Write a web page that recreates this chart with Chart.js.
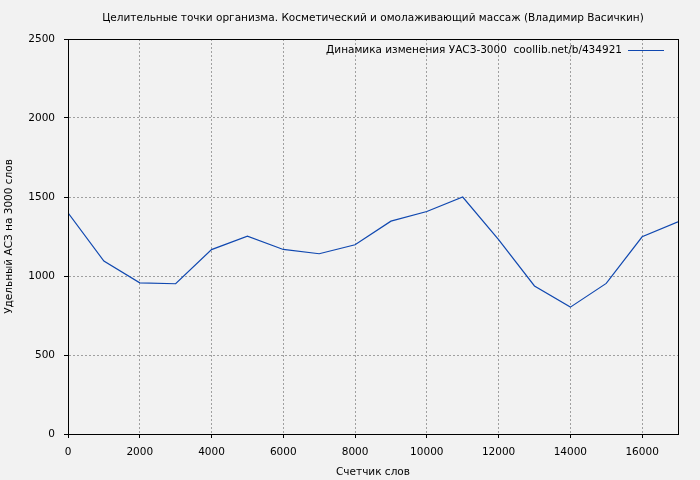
<!DOCTYPE html>
<html>
<head>
<meta charset="utf-8">
<script src="https://cdn.jsdelivr.net/npm/chart.js@4"></script>
<style>
  html, body { margin: 0; padding: 0; background: #f2f2f2; }
  #wrap { width: 700px; height: 480px; }
</style>
</head>
<body>
<div id="wrap"><canvas id="c" width="700" height="480"></canvas></div>
<script>
const titleText = 'Целительные точки организма. Косметический и омолаживающий массаж (Владимир Васичкин)';
const seriesLabel = 'Динамика изменения УАСЗ-3000  coollib.net/b/434921';
const xTitle = 'Счетчик слов';
const yTitle = 'Удельный АСЗ на 3000 слов';

const wordCounts = [0, 1000, 2000, 3000, 4000, 5000, 6000, 7000, 8000, 9000,
                    10000, 11000, 12000, 13000, 14000, 15000, 16000, 17000];
const ascValues = [1400, 1095, 957, 951, 1167, 1252, 1168, 1141, 1198, 1347,
                   1408, 1500, 1230, 937, 803, 953, 1248, 1343];
const xTicks = [0, 2000, 4000, 6000, 8000, 10000, 12000, 14000, 16000];
const yTicks = [0, 500, 1000, 1500, 2000, 2500];

const FONT = 'DejaVu Sans';
const FSIZE = 10.5;

// title, legend and frame drawn by hand, gnuplot style
const extras = {
    id: 'extras',
    afterDraw(chart) {
        const { ctx, chartArea: a } = chart;
        ctx.save();
        ctx.strokeStyle = '#000';
        ctx.lineWidth = 1;
        ctx.strokeRect(a.left + 0.5, a.top + 0.5, a.right - a.left, a.bottom - a.top);

        ctx.fillStyle = '#000';
        ctx.font = FSIZE + 'px "' + FONT + '"';
        ctx.textBaseline = 'middle';
        ctx.textAlign = 'center';
        ctx.fillText(titleText, (a.left + a.right) / 2, 18);

        const lineX1 = a.right - 14, lineX0 = lineX1 - 36, ly = 50;
        ctx.textAlign = 'right';
        ctx.fillText(chart.data.datasets[0].label, lineX0 - 6, ly);
        ctx.strokeStyle = chart.data.datasets[0].borderColor;
        ctx.beginPath();
        ctx.moveTo(lineX0, ly + 0.5);
        ctx.lineTo(lineX1, ly + 0.5);
        ctx.stroke();
        ctx.restore();
    }
};

new Chart(document.getElementById('c').getContext('2d'), {
    type: 'line',
    data: {
        datasets: [{
            label: seriesLabel,
            data: wordCounts.map((x, i) => ({ x: x, y: ascValues[i] })),
            borderColor: '#1048b0',
            borderWidth: 1.2,
            pointRadius: 0,
            tension: 0,
            fill: false
        }]
    },
    options: {
        responsive: false,
        animation: false,
        layout: { padding: { top: 39, right: 22, left: 0, bottom: 0 } },
        plugins: {
            legend: { display: false },
            title: { display: false },
            tooltip: { enabled: false }
        },
        scales: {
            x: {
                type: 'linear',
                min: 0,
                max: 17000,
                afterFit: s => { s.height = 46; },
                afterBuildTicks: s => { s.ticks = xTicks.map(v => ({ value: v })); },
                ticks: {
                    maxRotation: 0,
                    autoSkip: false,
                    color: '#000',
                    padding: 8,
                    callback: v => String(v),
                    font: { family: FONT, size: FSIZE }
                },
                grid: {
                    color: '#a0a0a0',
                    tickLength: 4,
                    tickColor: '#000',
                    tickBorderDash: []
                },
                border: { display: true, color: '#000', dash: [2, 2] },
                title: {
                    display: true,
                    text: xTitle,
                    color: '#000',
                    padding: { top: 2, bottom: 1 },
                    font: { family: FONT, size: FSIZE }
                }
            },
            y: {
                min: 0,
                max: 2500,
                afterFit: s => { s.width = 68; },
                afterBuildTicks: s => { s.ticks = yTicks.map(v => ({ value: v })); },
                ticks: {
                    autoSkip: false,
                    color: '#000',
                    padding: 9,
                    callback: v => String(v),
                    font: { family: FONT, size: FSIZE }
                },
                grid: {
                    color: '#a0a0a0',
                    tickLength: 4,
                    tickColor: '#000',
                    tickBorderDash: []
                },
                border: { display: true, color: '#000', dash: [2, 2] },
                title: {
                    display: true,
                    text: yTitle,
                    color: '#000',
                    padding: { top: 3, bottom: 2 },
                    font: { family: FONT, size: FSIZE }
                }
            }
        }
    },
    plugins: [extras]
});
</script>
</body>
</html>
